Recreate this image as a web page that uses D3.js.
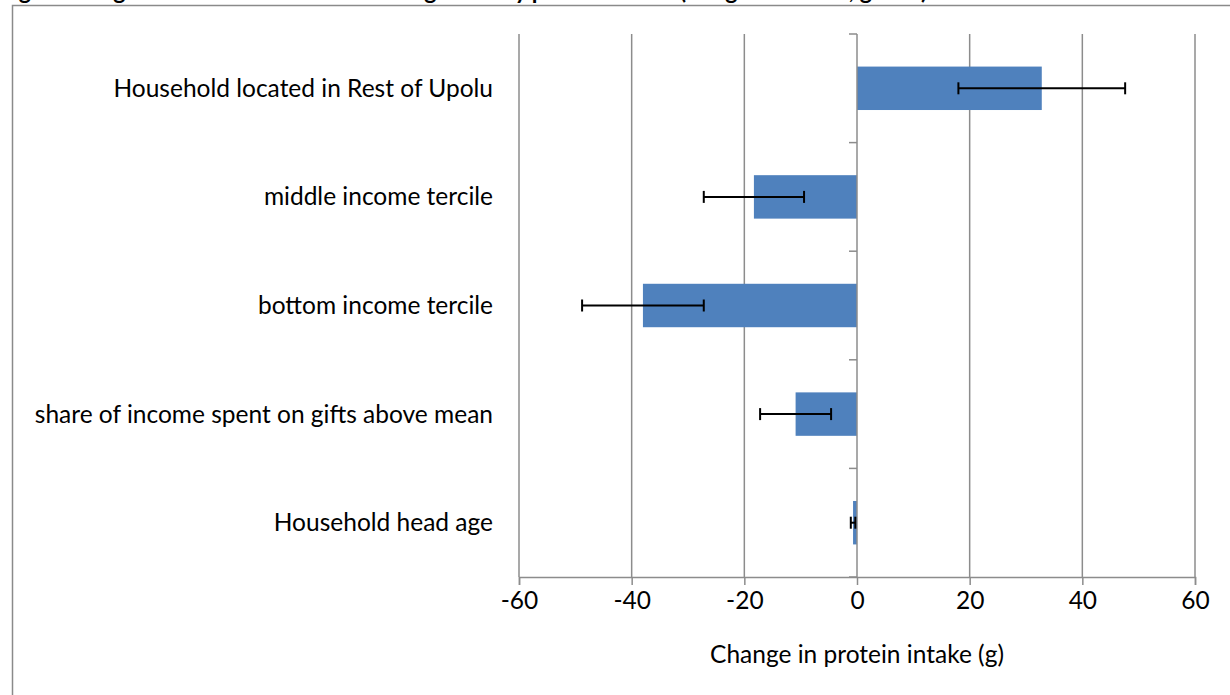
<!DOCTYPE html>
<html>
<head>
<meta charset="utf-8">
<script src="https://cdn.jsdelivr.net/npm/d3@7"></script>
<style>
  html, body { margin: 0; padding: 0; background: #fff; overflow: hidden; }
  svg { display: block; }
  text { font-family: Lato, "Open Sans", sans-serif; fill: #000; }
</style>
</head>
<body>
<svg id="chart" width="1230" height="695"></svg>
<script>
// Data (top to bottom as displayed)
const categories = [
  "Household located in Rest of Upolu",
  "middle income tercile",
  "bottom income tercile",
  "share of income spent on gifts above mean",
  "Household head age"
];
const values = [32.8, -18.3, -38.0, -10.9, -0.7];
const errors = [14.8, 8.9, 10.8, 6.3, 0.4];
const xTicks = [-60, -40, -20, 0, 20, 40, 60];
const axisTitle = "Change in protein intake (g)";
const chartTitle = "Figure 9: Significant determinants of change in daily protein intake (marginal effects, grams)";

const svg = d3.select("#chart");
const FS = 24.5;

// Outer chart border (cut off at right/bottom)
svg.append("rect")
  .attr("x", 12.5).attr("y", 5.5)
  .attr("width", 1240).attr("height", 720)
  .attr("fill", "none").attr("stroke", "#8a8a8a").attr("stroke-width", 1.5);

// Title, mostly cut off at the top (as in the reference)
svg.append("text")
  .attr("x", 0).attr("y", -1)
  .attr("font-weight", "bold").attr("font-size", 23)
  .text(chartTitle);

const x = d3.scaleLinear().domain([-60, 60]).range([519, 1195]);
const y = d3.scaleBand().domain(categories).range([34, 577]).paddingInner(0.6).paddingOuter(0.3);

const gridColor = "#8c8c8c";

// Vertical gridlines
svg.append("g").selectAll("line").data(xTicks.filter(d => d !== 0)).join("line")
  .attr("x1", d => x(d)).attr("x2", d => x(d))
  .attr("y1", 34).attr("y2", 577)
  .attr("stroke", gridColor).attr("stroke-width", 1.5);

// Bars
svg.append("g").selectAll("rect").data(categories).join("rect")
  .attr("x", (d, i) => Math.min(x(0), x(values[i])))
  .attr("width", (d, i) => Math.abs(x(values[i]) - x(0)))
  .attr("y", d => y(d))
  .attr("height", y.bandwidth())
  .attr("fill", "#4f81bd");

// X axis (bottom)
const xAxis = svg.append("g").attr("transform", "translate(0,577)")
  .call(d3.axisBottom(x).tickValues(xTicks).tickSize(8).tickPadding(7).tickFormat(d => String(d)));
xAxis.select(".domain").attr("stroke", gridColor).attr("stroke-width", 1.5);
xAxis.selectAll(".tick line").attr("stroke", gridColor).attr("stroke-width", 1.5);
xAxis.selectAll(".tick text").attr("font-size", FS).attr("font-family", "Lato, sans-serif").attr("fill", "#000");

// Category axis at zero
const catBoundaries = categories.map((c, i) => i === 0 ? 34 : y(c) - y.step() * y.paddingInner() / 2);
catBoundaries.push(577);
const zAxis = svg.append("g");
zAxis.append("line")
  .attr("x1", x(0)).attr("x2", x(0)).attr("y1", 34).attr("y2", 577)
  .attr("stroke", gridColor).attr("stroke-width", 1.5);
zAxis.selectAll("line.t").data(catBoundaries).join("line")
  .attr("class", "t")
  .attr("x1", x(0) - 8).attr("x2", x(0))
  .attr("y1", d => d).attr("y2", d => d)
  .attr("stroke", gridColor).attr("stroke-width", 1.5);

// Error bars
const eg = svg.append("g").attr("stroke", "#000").attr("stroke-width", 2);
categories.forEach((c, i) => {
  const cy = y(c) + y.bandwidth() / 2;
  const lo = x(values[i] - errors[i]), hi = x(values[i] + errors[i]);
  eg.append("line").attr("x1", lo).attr("x2", hi).attr("y1", cy).attr("y2", cy);
  eg.append("line").attr("x1", lo).attr("x2", lo).attr("y1", cy - 6).attr("y2", cy + 6);
  eg.append("line").attr("x1", hi).attr("x2", hi).attr("y1", cy - 6).attr("y2", cy + 6);
});

// Category labels
svg.append("g").selectAll("text").data(categories).join("text")
  .attr("x", 493)
  .attr("y", d => y(d) + y.bandwidth() / 2)
  .attr("dy", "0.35em")
  .attr("text-anchor", "end")
  .attr("font-size", FS)
  .text(d => d);

// Axis title
svg.append("text")
  .attr("x", x(0)).attr("y", 663)
  .attr("text-anchor", "middle")
  .attr("font-size", FS)
  .text(axisTitle);
</script>
</body>
</html>
